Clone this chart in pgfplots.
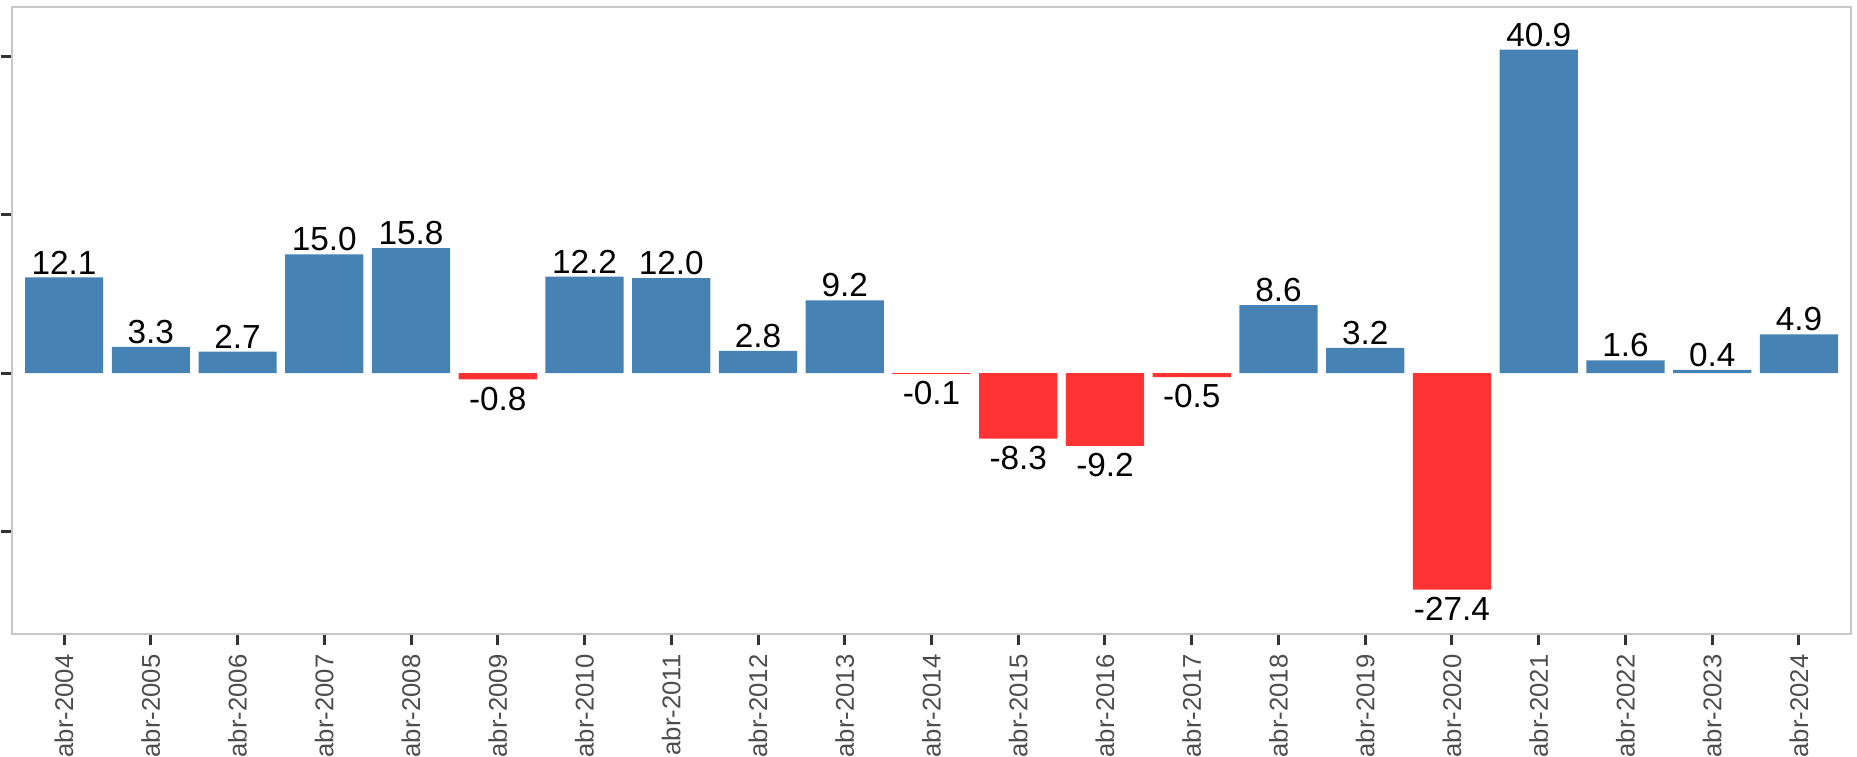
\documentclass[border=0pt]{standalone}
\usepackage{pgfplots}
\pgfplotsset{compat=1.18}
\usepackage{fontspec}
\setmainfont{Liberation Sans}
\definecolor{barblue}{HTML}{4682B4}
\definecolor{barred}{HTML}{FF3333}
\definecolor{tickgray}{HTML}{333333}
\definecolor{labgray}{HTML}{4D4D4D}
\begin{document}
\begin{tikzpicture}
\begin{axis}[
  name=ax,
  scale only axis,
  width=551.7pt, height=188.1pt,
  xmin=-0.6, xmax=20.6,
  ymin=-33, ymax=46.3,
  axis line style={color=black!22, line width=0.5pt},
  xtick={0,...,20},
  xticklabels={abr-2004,abr-2005,abr-2006,abr-2007,abr-2008,abr-2009,abr-2010,abr-2011,abr-2012,abr-2013,abr-2014,abr-2015,abr-2016,abr-2017,abr-2018,abr-2019,abr-2020,abr-2021,abr-2022,abr-2023,abr-2024},
  ytick={-20,0,20,40},
  yticklabels={},
  xtick pos=bottom, ytick pos=left,
  tick align=outside,
  major tick length=3.4pt,
  tick style={color=tickgray, line width=0.9pt},
  x tick label style={rotate=90, anchor=east, font=\fontsize{7.7pt}{9pt}\selectfont, text=labgray, inner sep=0pt, xshift=-2.6pt},
  /pgf/number format/assume math mode=true,
  ybar, bar width=0.9,
  nodes near coords={\pgfmathprintnumber[fixed,fixed zerofill,precision=1,assume math mode=true]{\pgfplotspointmeta}},
  every node near coord/.append style={font=\fontsize{10pt}{12pt}\selectfont, text=black},
]
\addplot[fill=barblue, draw=none, bar shift=0pt,
  every node near coord/.append style={anchor=south, inner sep=0.8pt}] coordinates {
  (0,12.1) (1,3.3) (2,2.7) (3,15.0) (4,15.8) (6,12.2) (7,12.0) (8,2.8) (9,9.2)
  (14,8.6) (15,3.2) (17,40.9) (18,1.6) (19,0.4) (20,4.9)
};
\addplot[fill=barred, draw=none, bar shift=0pt,
  every node near coord/.append style={anchor=north, inner sep=2pt}] coordinates {
  (5,-0.8) (10,-0.1) (11,-8.3) (12,-9.2) (13,-0.5) (16,-27.4)
};
\end{axis}
\pgfresetboundingbox
\path[use as bounding box] ([shift={(-3.6pt,-36.9pt)}]ax.south west) rectangle ([shift={(1.8pt,2.1pt)}]ax.north east);
\end{tikzpicture}
\end{document}
